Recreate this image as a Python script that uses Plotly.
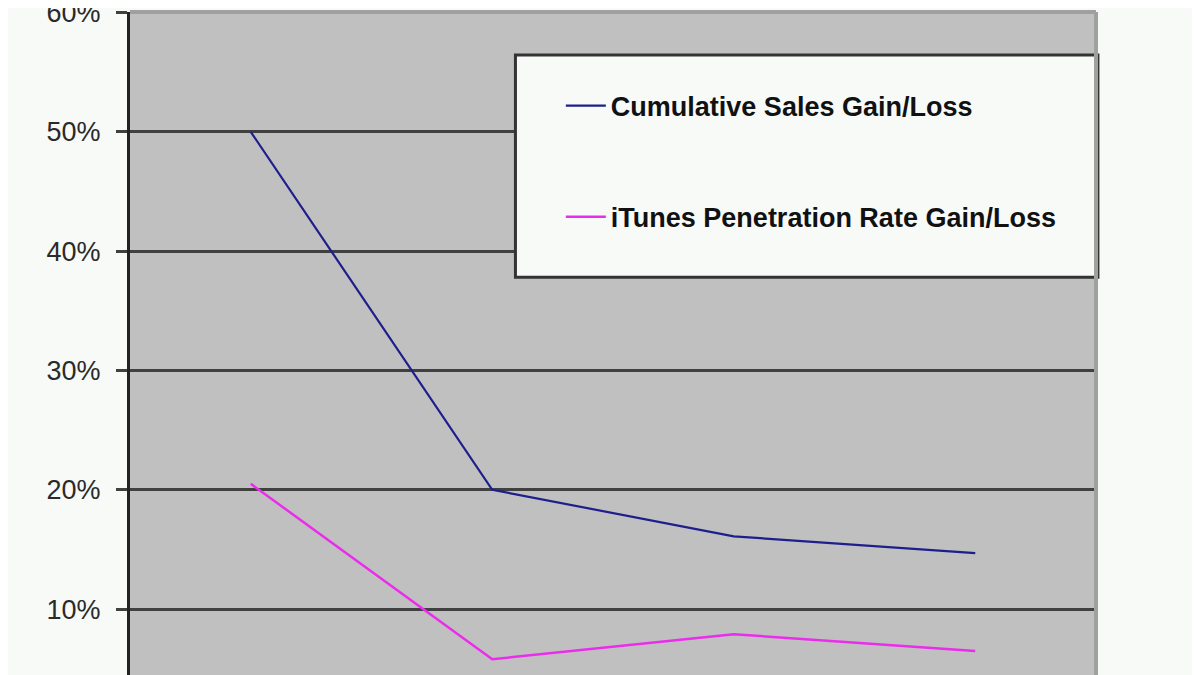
import plotly.graph_objects as go

# categories along the (cropped) x axis
periods = ["Period 1", "Period 2", "Period 3", "Period 4"]

# series values (fractions)
cumulative_sales = [0.500, 0.200, 0.161, 0.147]
itunes_penetration = [0.205, 0.058, 0.079, 0.065]

y_ticks = [0.10, 0.20, 0.30, 0.40, 0.50, 0.60]
y_tick_labels = ["10%", "20%", "30%", "40%", "50%", "60%"]

page_bg = "#F8FAF8"

fig = go.Figure()
fig.add_trace(go.Scatter(
    x=periods, y=cumulative_sales, mode="lines",
    name="Cumulative Sales Gain/Loss", legendgroup="sales",
    line=dict(color="#1E1E8C", width=2.2),
))
fig.add_trace(go.Scatter(
    x=periods, y=itunes_penetration, mode="lines",
    name="iTunes Penetration Rate Gain/Loss", legendgroup="itunes",
    line=dict(color="#EC2CEC", width=2.5),
))

# legend box (wider than plotly would draw it on its own)
fig.add_shape(type="rect", xref="paper", yref="paper",
              x0=0.399, x1=1.002, y0=0.600, y1=0.935,
              fillcolor=page_bg, line=dict(color="#333333", width=3),
              layer="above")
# light grey frame on top and right of the plot area
fig.add_shape(type="line", xref="paper", yref="paper",
              x0=0, x1=1, y0=1, y1=1,
              line=dict(color="#A0A0A0", width=4), layer="above")
fig.add_shape(type="line", xref="paper", yref="paper",
              x0=1, x1=1, y0=0, y1=1,
              line=dict(color="#A0A0A0", width=4), layer="above")

# the page body has an 8px margin, so the margins below are shifted by it
fig.update_layout(
    width=1200, height=675,
    margin=dict(l=122, r=112, t=4, b=8, pad=0),
    paper_bgcolor=page_bg,
    plot_bgcolor="#C0C0C0",
    font=dict(family="Liberation Sans, Arial, sans-serif", color="#222222"),
    showlegend=True,
    legend=dict(
        x=0.446, xanchor="left",
        y=0.7745, yanchor="middle",
        bgcolor="rgba(0,0,0,0)",
        borderwidth=0,
        traceorder="grouped",
        tracegroupgap=73,
        itemwidth=40,
        font=dict(family="Liberation Sans, Arial, sans-serif", size=27, color="#111111",
                  weight="bold"),
    ),
    xaxis=dict(
        type="category",
        range=[-0.5, 3.5],
        showticklabels=False,
        showgrid=False,
        zeroline=False,
        ticks="",
        automargin=False,
    ),
    yaxis=dict(
        range=[0.0448, 0.6004],
        tickvals=y_ticks,
        ticktext=y_tick_labels,
        showgrid=True,
        gridcolor="#404040",
        gridwidth=3,
        zeroline=False,
        showline=True,
        linecolor="#222222",
        linewidth=3,
        ticks="outside",
        ticklen=11,
        tickwidth=3,
        tickcolor="#404040",
        ticklabelstandoff=10,
        ticklabeloverflow="allow",
        tickfont=dict(size=27, color="#2A2A2A"),
        automargin=False,
    ),
)

fig.write_html("out.html")
